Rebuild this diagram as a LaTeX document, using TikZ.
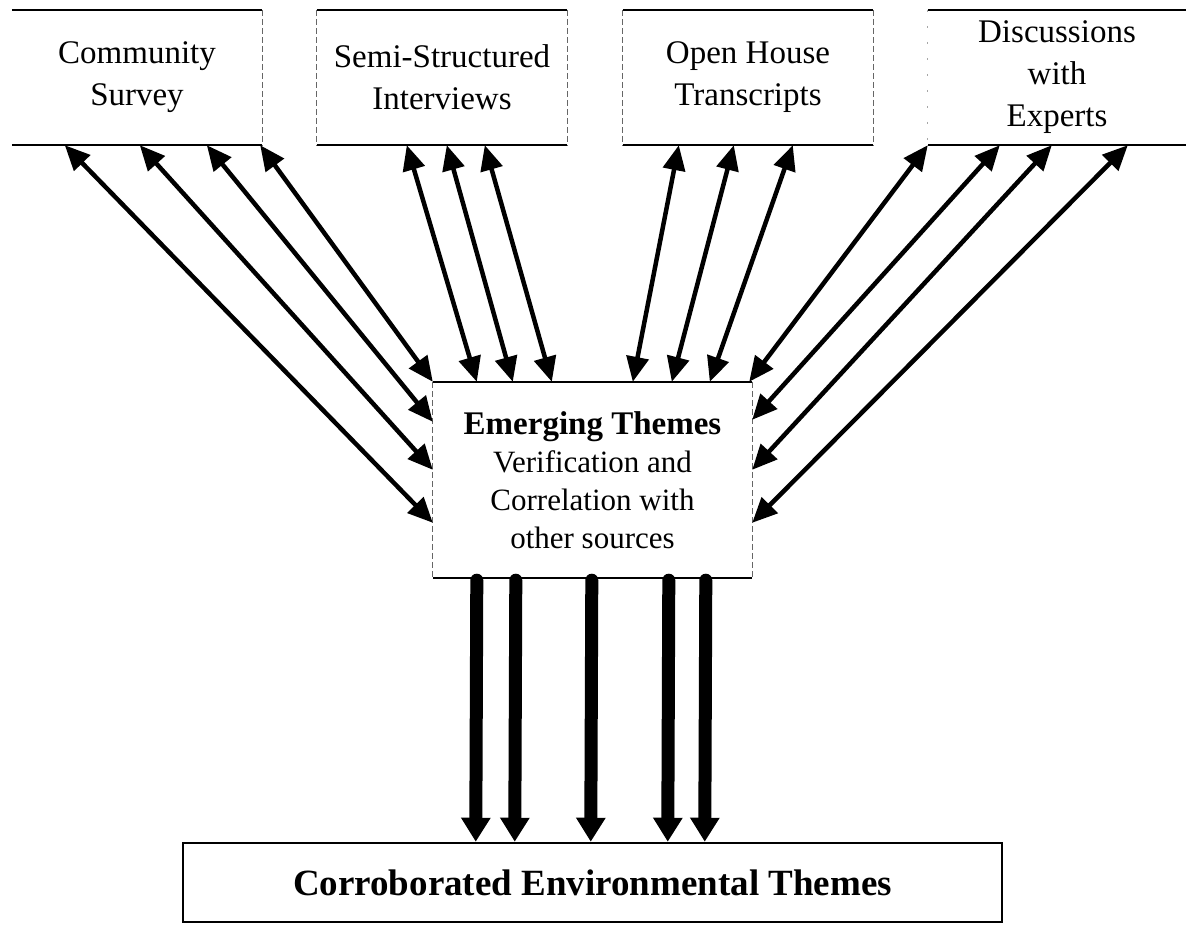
\documentclass[tikz,border=0pt]{standalone}
\usepackage{fontspec}
\setmainfont{Liberation Serif}
\usetikzlibrary{arrows.meta,calc}
\begin{document}
\begin{tikzpicture}[x=1pt,y=-1pt,
  srcbox/.style={rectangle,minimum width=250pt,minimum height=135pt,inner sep=0pt,
    align=center,font=\fontsize{33}{42}\selectfont},
  embox/.style={rectangle,minimum width=319pt,minimum height=196pt,inner sep=0pt,
    align=center,font=\fontsize{31}{38}\selectfont},
  resultbox/.style={rectangle,draw,line width=2.5pt,minimum width=819pt,minimum height=79pt,
    inner sep=0pt,font=\bfseries\fontsize{37}{40}\selectfont},
  hline/.style={line width=1.6pt},
  vline/.style={line width=1pt,black!60,dash pattern=on 6pt off 3pt},
  faint/.style={line width=1pt,black!35,dash pattern=on 2pt off 14pt},
  link/.style={line width=4.5pt,{Triangle[length=25pt,width=22pt]}-{Triangle[length=25pt,width=22pt]}},
  feed/.style={line width=13pt,line cap=round,-{Triangle[length=24pt,width=28pt]}},
]
\useasboundingbox (0,0) rectangle (1186,925);

% source boxes
\node[srcbox] (b1) at (137,77.5) {Community\\Survey};
\node[srcbox] (b2) at (442,77.5) {Semi-Structured\\Interviews};
\node[srcbox] (b3) at (748,77.5) {Open House\\Transcripts};
\node[srcbox,minimum width=258pt] (b4) at (1057,77.5) {Discussions\\with\\Experts};

\draw[hline] (b1.north west) -- (b1.north east) (b1.south west) -- (b1.south east);
\draw[vline] (b1.north east) -- (b1.south east);
\draw[hline] (b2.north west) -- (b2.north east) (b2.south west) -- (b2.south east);
\draw[vline] (b2.north west) -- (b2.south west) (b2.north east) -- (b2.south east);
\draw[hline] (b3.north west) -- (b3.north east) (b3.south west) -- (b3.south east);
\draw[vline] (b3.north west) -- (b3.south west) (b3.north east) -- (b3.south east);
\draw[hline] (b4.north west) -- (b4.north east) (b4.south west) -- (b4.south east);
\draw[faint] (b4.north west) -- (b4.south west);

% central box
\node[embox] (em) at (592.5,480)
  {{\bfseries\fontsize{33}{38}\selectfont Emerging Themes}\\Verification and\\Correlation with\\other sources};
\draw[hline] (em.north west) -- (em.north east) (em.south west) -- (em.south east);
\draw[vline] (em.north west) -- (em.south west) (em.north east) -- (em.south east);

% result box
\node[resultbox] (res) at (592.5,882.5) {Corroborated Environmental Themes};

% two-way links between sources and the central box
\draw[link] ($(b1.south west)+(53,0)$)  -- ($(em.north west)+(0,141)$);
\draw[link] ($(b1.south west)+(128,0)$) -- ($(em.north west)+(0,88)$);
\draw[link] ($(b1.south west)+(195,0)$) -- ($(em.north west)+(0,40)$);
\draw[link] ($(b1.south east)+(-2,0)$)  -- ($(em.north west)+(0,0)$);

\draw[link] ($(b2.south west)+(90,0)$)  -- ($(em.north west)+(44,0)$);
\draw[link] ($(b2.south west)+(130,0)$) -- ($(em.north west)+(80,0)$);
\draw[link] ($(b2.south west)+(168,0)$) -- ($(em.north west)+(119,0)$);

\draw[link] ($(b3.south west)+(56,0)$)  -- ($(em.north west)+(200,0)$);
\draw[link] ($(b3.south west)+(111,0)$) -- ($(em.north west)+(239,0)$);
\draw[link] ($(b3.south west)+(170,0)$) -- ($(em.north west)+(277,0)$);

\draw[link] ($(b4.south west)+(0,0)$)   -- ($(em.north east)+(-3,0)$);
\draw[link] ($(b4.south west)+(72,0)$)  -- ($(em.north east)+(0,38)$);
\draw[link] ($(b4.south west)+(124,0)$) -- ($(em.north east)+(0,88)$);
\draw[link] ($(b4.south west)+(200,0)$) -- ($(em.north east)+(0,141)$);

% heavy arrows into the result box
\draw[feed] ($(em.south west)+(44,2)$)  -- ($(res.north west)+(294,0)$);
\draw[feed] ($(em.south west)+(83,2)$)  -- ($(res.north west)+(333,0)$);
\draw[feed] ($(em.south west)+(159,2)$) -- ($(res.north west)+(409,0)$);
\draw[feed] ($(em.south west)+(236,2)$) -- ($(res.north west)+(486,0)$);
\draw[feed] ($(em.south west)+(273,2)$) -- ($(res.north west)+(523,0)$);
\end{tikzpicture}
\end{document}
